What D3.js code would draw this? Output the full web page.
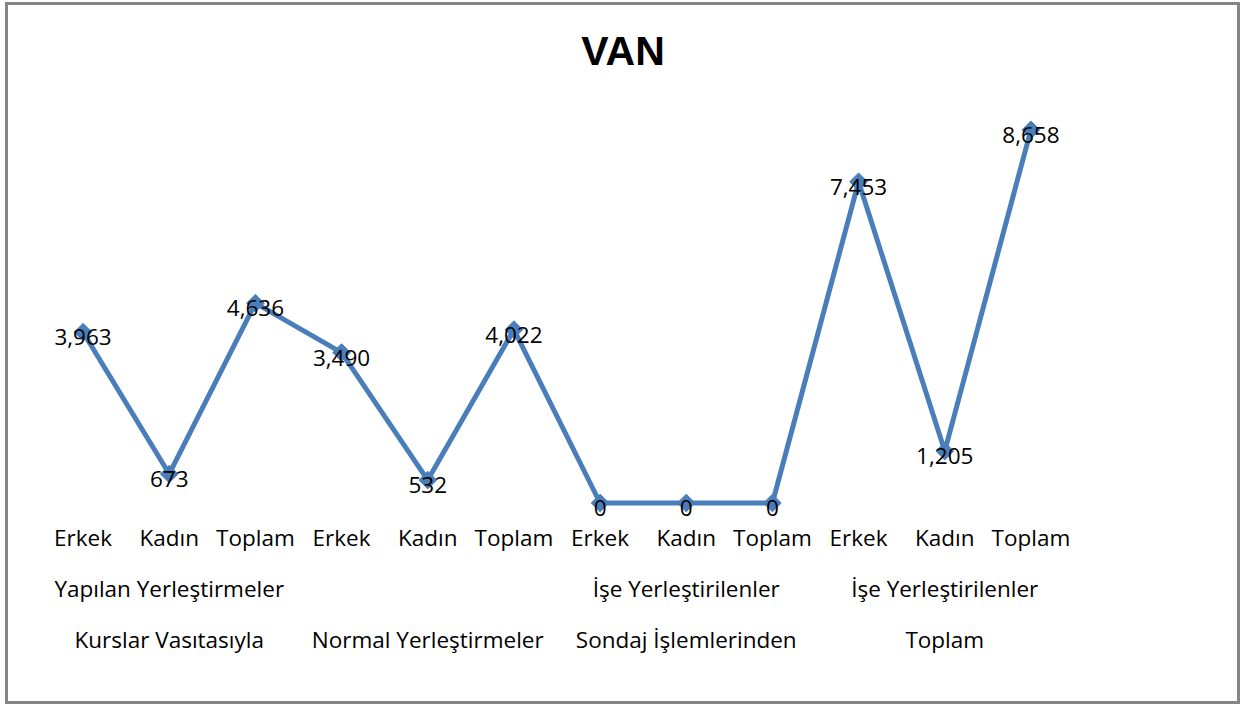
<!DOCTYPE html>
<html>
<head>
<meta charset="utf-8">
<script src="https://cdn.jsdelivr.net/npm/d3@7"></script>
<style>
  html, body { margin: 0; padding: 0; background: #fff; }
  svg { display: block; }
</style>
</head>
<body>
<svg id="chart" width="1245" height="706"></svg>
<script>
// Placement counts for VAN, by placement type and gender
const categories = ["Erkek", "Kadın", "Toplam", "Erkek", "Kadın", "Toplam",
                    "Erkek", "Kadın", "Toplam", "Erkek", "Kadın", "Toplam"];
const values = [3963, 673, 4636, 3490, 532, 4022, 0, 0, 0, 7453, 1205, 8658];
// Group captions: each group spans three categories
const groupLine1 = ["Yapılan Yerleştirmeler", "", "İşe Yerleştirilenler", "İşe Yerleştirilenler"];
const groupLine2 = ["Kurslar Vasıtasıyla", "Normal Yerleştirmeler", "Sondaj İşlemlerinden", "Toplam"];
const title = "VAN";

const svg = d3.select("#chart");
const W = 1245, H = 706;
const lineColor = "#4a7ebb";
const font = "'Open Sans', sans-serif";

// Outer frame
svg.append("rect")
  .attr("x", 6.5).attr("y", 3.5)
  .attr("width", W - 13).attr("height", H - 7)
  .attr("fill", "#fff")
  .attr("stroke", "#858585").attr("stroke-width", 3);

// Title
svg.append("text")
  .attr("x", 623).attr("y", 65)
  .attr("text-anchor", "middle")
  .attr("font-family", "'Liberation Sans', Arial, sans-serif")
  .attr("font-weight", "bold")
  .attr("font-size", 41)
  .attr("fill", "#000")
  .text(title);

const idx = categories.map((_, i) => i);
const x = d3.scaleBand().domain(idx).range([40, 1074]).padding(0);
const y = d3.scaleLinear().domain([0, 10000]).range([503, 72]);
const cx = i => x(i) + x.bandwidth() / 2;

// Series line
const line = d3.line().x((d, i) => cx(i)).y(d => y(d));
svg.append("path")
  .datum(values)
  .attr("d", line)
  .attr("fill", "none")
  .attr("stroke", lineColor)
  .attr("stroke-width", 5)
  .attr("stroke-linejoin", "round");

// Diamond markers
const diamond = d3.symbol().type(d3.symbolDiamond2).size(200);
svg.append("g").selectAll("path")
  .data(values)
  .join("path")
  .attr("d", diamond)
  .attr("transform", (d, i) => `translate(${cx(i)},${y(d)})`)
  .attr("fill", lineColor)
  .attr("stroke", lineColor)
  .attr("stroke-width", 1);

// Value labels
const fmt = d3.format(",");
svg.append("g").selectAll("text")
  .data(values)
  .join("text")
  .attr("x", (d, i) => cx(i))
  .attr("y", d => y(d) + 13)
  .attr("text-anchor", "middle")
  .attr("font-family", font)
  .attr("font-size", 22.5)
  .attr("fill", "#000")
  .text(d => fmt(d));

// Category labels
svg.append("g").selectAll("text")
  .data(categories)
  .join("text")
  .attr("x", (d, i) => cx(i))
  .attr("y", 546)
  .attr("text-anchor", "middle")
  .attr("font-family", font)
  .attr("font-size", 22.5)
  .attr("fill", "#000")
  .text(d => d);

// Group captions, centred under the middle category of each group
const groupCenter = g => cx(g * 3 + 1);
svg.append("g").selectAll("text")
  .data(groupLine1)
  .join("text")
  .attr("x", (d, g) => groupCenter(g))
  .attr("y", 597)
  .attr("text-anchor", "middle")
  .attr("font-family", font)
  .attr("font-size", 22.5)
  .attr("fill", "#000")
  .text(d => d);

svg.append("g").selectAll("text")
  .data(groupLine2)
  .join("text")
  .attr("x", (d, g) => groupCenter(g))
  .attr("y", 648)
  .attr("text-anchor", "middle")
  .attr("font-family", font)
  .attr("font-size", 22.5)
  .attr("fill", "#000")
  .text(d => d);
</script>
</body>
</html>
